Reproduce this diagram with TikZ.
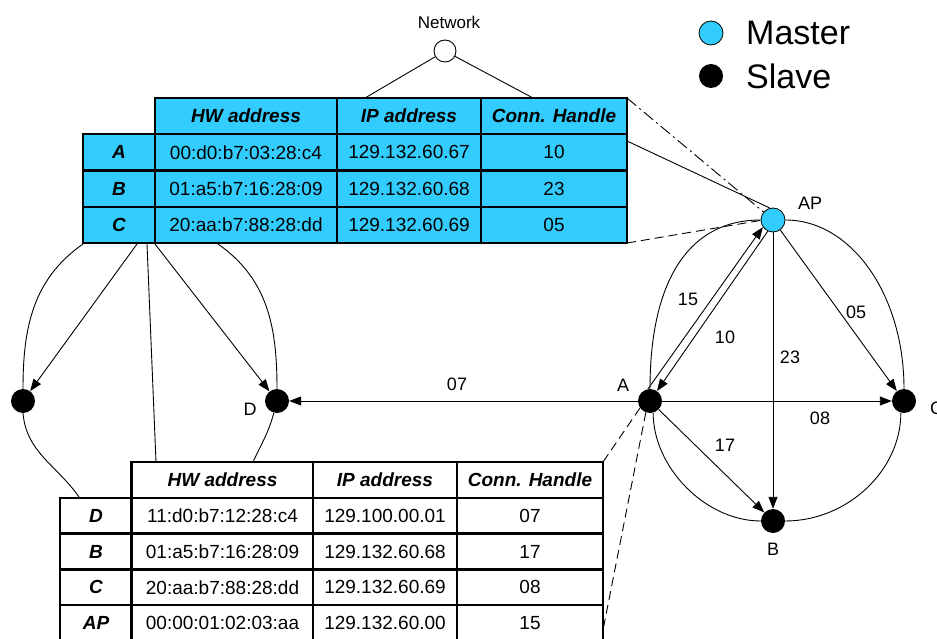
\documentclass[tikz,border=0pt]{standalone}
\usepackage{fontspec}
\setmainfont{Liberation Sans}
\usetikzlibrary{arrows.meta}
\definecolor{mblue}{RGB}{51,204,255}
\begin{document}
\begin{tikzpicture}[x=1pt,y=1pt,
  cell/.style={draw, line width=2.4pt, inner sep=0pt, outer sep=0pt, minimum height=36.25pt, font=\fontsize{19}{21}\selectfont},
  bcell/.style={cell, minimum height=35.8pt},
  hdr/.style={font=\fontsize{19}{20}\selectfont\bfseries\itshape},
  tfill/.style={fill=mblue},
  wfill/.style={fill=white},
  wl/.style={minimum width=72pt},
  whw/.style={minimum width=182pt},
  wip/.style={minimum width=144pt},
  wch/.style={minimum width=146pt},
  slave/.style={circle, fill=black, minimum size=24pt, inner sep=0pt},
  master/.style={circle, draw, line width=0.8pt, fill=mblue, minimum size=24pt, inner sep=0pt},
  ln/.style={line width=0.9pt},
  arr/.style={line width=0.9pt, -{Triangle[length=12pt,width=9pt]}},
  dsh/.style={line width=0.9pt, dash pattern=on 9pt off 5pt},
  dshdot/.style={line width=0.9pt, dash pattern=on 12pt off 4pt on 2pt off 4pt},
  lbl/.style={font=\fontsize{18}{20}\selectfont, inner sep=1pt},
]
\useasboundingbox (0,0) rectangle (937,-639);

% ---------- top table ----------
\node[cell,tfill,hdr,whw] (tHW) at (246,-116.1) {HW address};
\node[cell,tfill,hdr,wip] (tIP) at (409,-116.1) {IP address};
\node[cell,tfill,hdr,wch] (tCH) at (554,-116.1) {Conn. Handle};
\node[cell,tfill,hdr,wl] (tLA) at (119,-152.4) {A};
\node[cell,tfill,whw] (tHA) at (246,-152.4) {00:d0:b7:03:28:c4};
\node[cell,tfill,wip] (tIA) at (409,-152.4) {129.132.60.67};
\node[cell,tfill,wch] (tCA) at (554,-152.4) {10};
\node[cell,tfill,hdr,wl] (tLB) at (119,-188.6) {B};
\node[cell,tfill,whw] (tHB) at (246,-188.6) {01:a5:b7:16:28:09};
\node[cell,tfill,wip] (tIB) at (409,-188.6) {129.132.60.68};
\node[cell,tfill,wch] (tCB) at (554,-188.6) {23};
\node[cell,tfill,hdr,wl] (tLC) at (119,-224.9) {C};
\node[cell,tfill,whw] (tHC) at (246,-224.9) {20:aa:b7:88:28:dd};
\node[cell,tfill,wip] (tIC) at (409,-224.9) {129.132.60.69};
\node[cell,tfill,wch] (tCC) at (554,-224.9) {05};

% ---------- bottom table ----------
\node[bcell,wfill,hdr,whw] (bHW) at (222.5,-479.9) {HW address};
\node[bcell,wfill,hdr,wip] (bIP) at (385,-479.9) {IP address};
\node[bcell,wfill,hdr,wch] (bCH) at (530,-479.9) {Conn. Handle};
\node[bcell,wfill,hdr,wl] (bLD) at (96,-515.7) {D};
\node[bcell,wfill,whw] (bHD) at (222.5,-515.7) {11:d0:b7:12:28:c4};
\node[bcell,wfill,wip] (bID) at (385,-515.7) {129.100.00.01};
\node[bcell,wfill,wch] (bCD) at (530,-515.7) {07};
\node[bcell,wfill,hdr,wl] (bLB) at (96,-551.5) {B};
\node[bcell,wfill,whw] (bHB) at (222.5,-551.5) {01:a5:b7:16:28:09};
\node[bcell,wfill,wip] (bIB) at (385,-551.5) {129.132.60.68};
\node[bcell,wfill,wch] (bCB) at (530,-551.5) {17};
\node[bcell,wfill,hdr,wl] (bLC) at (96,-587.3) {C};
\node[bcell,wfill,whw] (bHC) at (222.5,-587.3) {20:aa:b7:88:28:dd};
\node[bcell,wfill,wip] (bIC) at (385,-587.3) {129.132.60.69};
\node[bcell,wfill,wch] (bCC) at (530,-587.3) {08};
\node[bcell,wfill,hdr,wl] (bLA) at (96,-623.1) {AP};
\node[bcell,wfill,whw] (bHA) at (222.5,-623.1) {00:00:01:02:03:aa};
\node[bcell,wfill,wip] (bIA) at (385,-623.1) {129.132.60.00};
\node[bcell,wfill,wch] (bCA) at (530,-623.1) {15};

% ---------- nodes ----------
\node[circle, draw, line width=0.9pt, fill=white, minimum size=22pt, inner sep=0pt] (net) at (445,-51) {};
\node[font=\fontsize{17}{19}\selectfont, inner sep=0pt] (netl) at (449,-22) {Network};
\node[master] (AP) at (773,-220) {};
\node[slave] (A) at (650,-401) {};
\node[slave] (C) at (904,-401) {};
\node[slave] (B) at (773,-521) {};
\node[slave] (D) at (277,-401) {};
\node[slave] (L) at (23,-401) {};
\node[lbl] (APl) at (810,-203) {AP};
\node[lbl] (Al) at (623,-385) {A};
\node[lbl] (Dl) at (250,-409) {D};
\node[lbl] (Bl) at (773,-549) {B};
\node[lbl, anchor=west] (Cl) at (929,-408) {C};

% legend
\node[master] (lm) at (711,-33) {};
\node[slave] (ls) at (711,-76) {};
\node[font=\fontsize{34}{36}\selectfont, anchor=west, inner sep=0pt] (lmt) at (746,-33) {Master};
\node[font=\fontsize{34}{36}\selectfont, anchor=west, inner sep=0pt] (lst) at (746,-76) {Slave};

% ---------- coordinates on table borders ----------
\coordinate (t1) at (365,-98);
\coordinate (t2) at (533,-98);
\coordinate (tr1) at (627,-98);
\coordinate (tr2) at (627,-141);
\coordinate (tr3) at (627,-243);
\coordinate (bl1) at (83,-244);
\coordinate (b137) at (137,-244);
\coordinate (b147) at (147,-244);
\coordinate (b155) at (155,-244);
\coordinate (b218) at (218,-244);
\coordinate (q1) at (79,-497);
\coordinate (q2) at (156,-462);
\coordinate (q3) at (253,-462);
\coordinate (br1) at (603,-462);
\coordinate (br2) at (603,-630);

% ---------- network / AP links ----------
\draw[ln] (net) -- (t1);
\draw[ln] (net) -- (t2);
\draw[dshdot] (tr1) -- (AP.140);
\draw[ln] (tr2) -- (AP.105);
\draw[dsh] (tr3) -- (AP.182);

% ---------- right piconet ----------
\draw[ln] (AP.east) .. controls +(66,0) and +(0,94) .. (C.north);
\draw[ln] (AP.west) .. controls +(-72,0) and +(0,108) .. (A.north);
\draw[ln] (A.-75) .. controls +(0,-55) and +(-55,0) .. (B.west);
\draw[ln] (C.-105) .. controls +(0,-58) and +(62,0) .. (B.east);
\draw[arr] (A) -- (C);
\draw[arr] (A) -- (D);
\draw[arr] (AP) -- (B);
\draw[arr] (AP) -- (C);
\draw[arr] (AP.245) -- (A.55);
\draw[arr] (A.100) -- (AP.215);
\draw[arr] (A) -- (B);
\node[lbl] (e07) at (457,-384) {07};
\node[lbl] (e08) at (820,-418) {08};
\node[lbl] (e23) at (790,-357) {23};
\node[lbl] (e05) at (856,-312) {05};
\node[lbl] (e10) at (725,-337) {10};
\node[lbl] (e15) at (688,-299) {15};
\node[lbl] (e17) at (725,-445) {17};
\draw[dsh] (A.215) -- (br1);
\draw[dsh] (A.250) -- (br2);

% ---------- left piconet ----------
\draw[ln] (bl1) to[out=-145,in=90] (L.north);
\draw[ln] (b218) to[out=-35,in=90] (D.north);
\draw[ln] (L.south) to[out=-85,in=125] (q1);
\draw[ln] (D.-105) to[out=-105,in=65] (q3);
\draw[arr] (b137) -- (L);
\draw[arr] (b155) -- (D);
\draw[ln] (b147) -- (q2);
\end{tikzpicture}
\end{document}
